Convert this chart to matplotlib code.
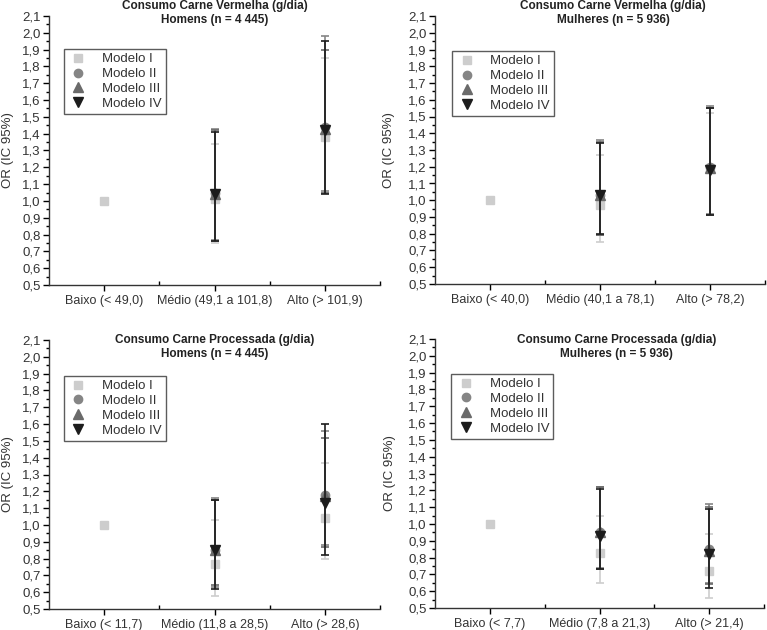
import matplotlib
matplotlib.use("Agg")
import matplotlib.pyplot as plt
import numpy as np
from matplotlib.lines import Line2D
from matplotlib.ticker import FixedLocator, FuncFormatter, MultipleLocator

plt.rcParams["font.family"] = ["Liberation Sans", "DejaVu Sans"]

MODELS = ["Modelo I", "Modelo II", "Modelo III", "Modelo IV"]
MARKERS = ["s", "o", "^", "v"]
COLORS = ["#cdcdcd", "#858585", "#6a6a6a", "#1c1c1c"]
NAN = np.nan

# Carne vermelha, homens
cat_hv = ["Baixo (< 49,0)", "Médio (49,1 a 101,8)", "Alto (> 101,9)"]
or_hv = [[1.00, 1.01, 1.38], [NAN, 1.05, 1.44], [NAN, 1.04, 1.43], [NAN, 1.04, 1.42]]
lo_hv = [[1.00, 0.75, 1.05], [NAN, 0.77, 1.06], [NAN, 0.76, 1.05], [NAN, 0.76, 1.04]]
hi_hv = [[1.00, 1.34, 1.85], [NAN, 1.43, 1.98], [NAN, 1.42, 1.90], [NAN, 1.41, 1.95]]

# Carne vermelha, mulheres
cat_mv = ["Baixo (< 40,0)", "Médio (40,1 a 78,1)", "Alto (> 78,2)"]
or_mv = [[1.00, 0.97, 1.19], [NAN, 1.03, 1.20], [NAN, 1.03, 1.19], [NAN, 1.03, 1.18]]
lo_mv = [[1.00, 0.75, 0.92], [NAN, 0.79, 0.92], [NAN, 0.79, 0.91], [NAN, 0.80, 0.91]]
hi_mv = [[1.00, 1.27, 1.52], [NAN, 1.36, 1.56], [NAN, 1.35, 1.55], [NAN, 1.34, 1.55]]

# Carne processada, homens
cat_hp = ["Baixo (< 11,7)", "Médio (11,8 a 28,5)", "Alto (> 28,6)"]
or_hp = [[1.00, 0.77, 1.04], [NAN, 0.85, 1.18], [NAN, 0.85, 1.17], [NAN, 0.85, 1.13]]
lo_hp = [[1.00, 0.58, 0.80], [NAN, 0.63, 0.88], [NAN, 0.64, 0.87], [NAN, 0.62, 0.82]]
hi_hp = [[1.00, 1.03, 1.37], [NAN, 1.16, 1.56], [NAN, 1.15, 1.52], [NAN, 1.15, 1.60]]

# Carne processada, mulheres
cat_mp = ["Baixo (< 7,7)", "Médio (7,8 a 21,3)", "Alto (> 21,4)"]
or_mp = [[1.00, 0.83, 0.72], [NAN, 0.95, 0.85], [NAN, 0.95, 0.84], [NAN, 0.93, 0.82]]
lo_mp = [[1.00, 0.65, 0.56], [NAN, 0.74, 0.65], [NAN, 0.73, 0.64], [NAN, 0.73, 0.62]]
hi_mp = [[1.00, 1.05, 0.94], [NAN, 1.22, 1.12], [NAN, 1.22, 1.10], [NAN, 1.21, 1.09]]

W, H = 767, 630


def px_rect(left, top, right, bottom):
    return [left / W, 1 - bottom / H, (right - left) / W, (bottom - top) / H]


PANELS = [
    dict(rect=(49, 16, 380, 285), cats=cat_hv, od=or_hv, lo=lo_hv, hi=hi_hv,
         title="Consumo Carne Vermelha (g/dia)\nHomens (n = 4 445)", tx=0.5, ty=1.012,
         leg=(0.045, 0.877), ylab=-0.105),
    dict(rect=(435, 16, 765, 284), cats=cat_mv, od=or_mv, lo=lo_mv, hi=hi_mv,
         title="Consumo Carne Vermelha (g/dia)\nMulheres (n = 5 936)", tx=0.54, ty=1.012,
         leg=(0.052, 0.869), ylab=-0.121),
    dict(rect=(49, 340, 380, 609), cats=cat_hp, od=or_hp, lo=lo_hp, hi=hi_hp,
         title="Consumo Carne Processada (g/dia)\nHomens (n = 4 445)", tx=0.5, ty=0.974,
         leg=(0.045, 0.866), ylab=-0.105),
    dict(rect=(435, 339, 764, 608), cats=cat_mp, od=or_mp, lo=lo_mp, hi=hi_mp,
         title="Consumo Carne Processada (g/dia)\nMulheres (n = 5 936)", tx=0.553, ty=0.970,
         leg=(0.05, 0.870), ylab=-0.12),
]

comma = FuncFormatter(lambda v, p: f"{v:.1f}".replace(".", ","))

fig = plt.figure(figsize=(W / 100, H / 100), dpi=100)
for p in PANELS:
    ax = fig.add_axes(px_rect(*p["rect"]))
    x = np.arange(len(p["cats"])) + 0.5
    for m in range(len(MODELS)):
        y = np.array(p["od"][m])
        err = np.vstack([y - np.array(p["lo"][m]), np.array(p["hi"][m]) - y])
        ax.errorbar(x, y, yerr=err, fmt=MARKERS[m], color=COLORS[m], ecolor=COLORS[m],
                    markersize=6 if MARKERS[m] in "so" else 7, elinewidth=1.2,
                    capsize=3, capthick=1.2, zorder=2 + m)
    ax.set_xlim(0, 3)
    ax.set_ylim(0.5, 2.1)
    ax.yaxis.set_major_locator(MultipleLocator(0.1))
    ax.yaxis.set_minor_locator(MultipleLocator(0.05))
    ax.yaxis.set_major_formatter(comma)
    ax.xaxis.set_major_locator(FixedLocator(x))
    ax.xaxis.set_minor_locator(FixedLocator([1, 2, 3]))
    ax.set_xticklabels(p["cats"])
    ax.tick_params(axis="x", which="major", direction="out", length=4, width=1,
                   labelsize=9, pad=3, labelcolor="#333333")
    ax.tick_params(axis="x", which="minor", direction="in", length=3, width=1)
    ax.tick_params(axis="y", which="major", direction="out", length=4, width=1,
                   labelsize=9.5, pad=2, labelcolor="#333333")
    ax.tick_params(axis="y", which="minor", direction="out", length=2, width=1)
    for s in ("top", "right"):
        ax.spines[s].set_visible(False)
    for s in ("left", "bottom"):
        ax.spines[s].set_color("#333333")
        ax.spines[s].set_linewidth(1.0)
    ax.set_ylabel("OR (IC 95%)", fontsize=9.5, color="#333333")
    ax.yaxis.set_label_coords(p["ylab"], 0.5)
    ax.text(p["tx"], p["ty"], p["title"], transform=ax.transAxes, ha="center", va="center",
            fontsize=8.5, fontweight="bold", linespacing=1.2, clip_on=False, color="#222222")
    handles = [Line2D([], [], linestyle="none", marker=MARKERS[m], color=COLORS[m],
                      markersize=6 if MARKERS[m] in "so" else 7) for m in range(len(MODELS))]
    leg = ax.legend(handles, MODELS, loc="upper left", bbox_to_anchor=p["leg"], frameon=True,
                    fancybox=False, edgecolor="#333333", fontsize=9.5, handletextpad=1.0,
                    labelspacing=0.2, borderpad=0.3, handlelength=1.6, borderaxespad=0)
    leg.get_frame().set_linewidth(1.0)
    for t in leg.get_texts():
        t.set_color("#333333")

fig.savefig("out.png", dpi=100, facecolor="white")
